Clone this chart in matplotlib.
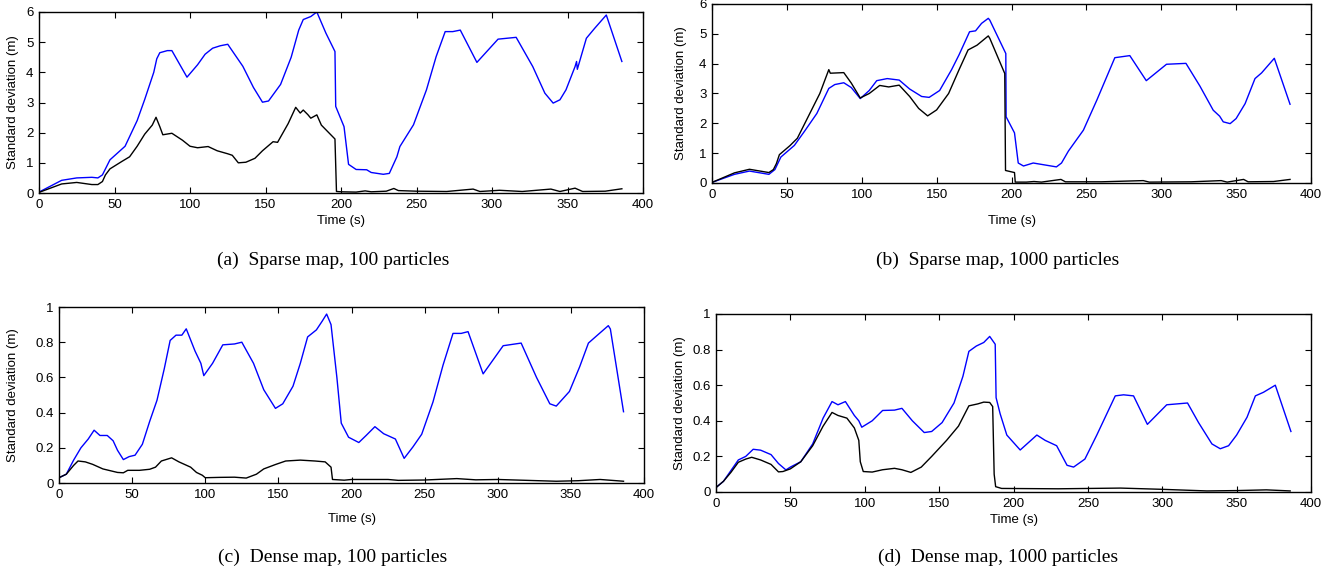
import matplotlib
matplotlib.use("Agg")
import matplotlib.pyplot as plt

# ---------------- data ----------------
# (a) Sparse map, 100 particles
a_blue_t = [0, 15, 25, 35, 39, 42, 47, 57, 65, 70, 76, 78, 80, 85, 88, 98, 105, 110, 115, 120, 125,
            135, 142, 148, 152, 160, 167, 172, 175, 180, 184, 190, 196, 196.5, 202, 205, 210, 217, 220,
            228, 232, 237, 239, 248, 256.6, 263, 269, 274, 279, 290, 304, 316, 327, 335, 340.5, 345,
            349, 355, 356, 356.5, 362.5, 368, 375.7, 386]
a_blue_v = [0.03, 0.42, 0.5, 0.52, 0.5, 0.6, 1.1, 1.55, 2.4, 3.1, 4.0, 4.45, 4.65, 4.72, 4.72, 3.84,
            4.25, 4.6, 4.8, 4.88, 4.93, 4.2, 3.5, 3.01, 3.05, 3.6, 4.5, 5.4, 5.75, 5.85, 6.0, 5.3,
            4.69, 2.87, 2.2, 0.95, 0.78, 0.77, 0.68, 0.62, 0.65, 1.2, 1.54, 2.26, 3.42, 4.52, 5.35,
            5.35, 5.4, 4.33, 5.1, 5.16, 4.19, 3.31, 2.98, 3.09, 3.42, 4.19, 4.36, 4.1, 5.13, 5.46,
            5.9, 4.36]
a_black_t = [0, 15, 25, 35, 39, 42, 44, 47, 55, 60, 65, 70, 75, 77.5, 80, 82, 88, 95, 100, 105, 112,
             118, 125, 128, 132, 137, 143, 148, 155, 158, 165, 170, 173, 175, 178, 180, 184, 187,
             196, 197, 200, 210, 216, 220, 230, 235, 238, 250, 270, 287.5, 292, 305, 320, 339, 345,
             355, 360, 375, 386]
a_black_v = [0.02, 0.3, 0.35, 0.28, 0.28, 0.38, 0.6, 0.8, 1.05, 1.2, 1.55, 1.95, 2.25, 2.51, 2.2,
             1.93, 1.98, 1.75, 1.55, 1.5, 1.54, 1.4, 1.3, 1.25, 1.0, 1.02, 1.15, 1.4, 1.7, 1.68, 2.3,
             2.84, 2.65, 2.75, 2.6, 2.48, 2.59, 2.25, 1.79, 0.05, 0.04, 0.03, 0.07, 0.04, 0.06, 0.15,
             0.08, 0.06, 0.05, 0.13, 0.05, 0.09, 0.05, 0.13, 0.05, 0.16, 0.05, 0.06, 0.14]

# (b) Sparse map, 1000 particles
b_blue_t = [0, 15, 25, 38, 42, 46, 55, 62, 70, 78, 82, 88, 93, 99, 105, 110, 117, 125, 132, 140, 145,
            152, 160, 165, 172, 176, 180, 184.5, 185.5, 196.2, 196.4, 202, 204.5, 208, 214.5, 230,
            233.4, 238, 248, 257, 269, 279, 290, 303.5, 316.5, 325.8, 334.7, 339, 341.4, 346, 350,
            356, 362.6, 367, 375.5, 386]
b_blue_v = [0.02, 0.29, 0.4, 0.29, 0.45, 0.87, 1.26, 1.75, 2.33, 3.17, 3.3, 3.36, 3.2, 2.83, 3.1,
            3.43, 3.5, 3.45, 3.15, 2.9, 2.87, 3.1, 3.8, 4.3, 5.07, 5.1, 5.35, 5.52, 5.46, 4.34, 2.22,
            1.68, 0.67, 0.57, 0.67, 0.54, 0.67, 1.07, 1.77, 2.78, 4.2, 4.27, 3.43, 3.98, 4.01, 3.25,
            2.44, 2.24, 2.05, 1.99, 2.16, 2.66, 3.5, 3.69, 4.18, 2.64]
b_black_t = [0, 15, 25, 38, 41, 43, 45, 52, 57, 65, 72, 78, 79, 88, 93, 99, 105, 112, 118, 125, 132,
             138, 144, 150, 158, 165, 171, 177, 184.5, 185.5, 195.5, 196, 202, 202.5, 210, 215, 220,
             233, 236, 260, 288, 292, 320, 340, 344, 355, 358, 375, 386]
b_black_v = [0.02, 0.34, 0.46, 0.35, 0.45, 0.65, 0.95, 1.25, 1.5, 2.3, 3.0, 3.8, 3.68, 3.7, 3.35,
             2.85, 3.0, 3.27, 3.22, 3.28, 2.9, 2.5, 2.25, 2.45, 3.0, 3.8, 4.46, 4.62, 4.93, 4.85,
             3.67, 0.42, 0.35, 0.03, 0.03, 0.05, 0.03, 0.12, 0.04, 0.04, 0.08, 0.03, 0.04, 0.08,
             0.03, 0.12, 0.04, 0.05, 0.12]

# (c) Dense map, 100 particles
c_blue_t = [0, 5, 10, 15, 20, 24, 28, 33, 37, 40, 44, 48, 52, 57, 62, 67, 72, 76, 80, 84, 87, 93, 97,
            99, 105, 112, 120, 125, 133, 140, 148, 153, 160, 165, 170, 176, 180, 183, 186, 190, 193,
            198, 205, 210, 216, 222, 230, 236, 242, 248, 255.7, 262.6, 269.4, 275, 279.7, 290,
            303.7, 316, 326.5, 335.6, 340, 349, 356, 362, 367.6, 375.6, 377, 386]
c_blue_v = [0.03, 0.05, 0.13, 0.2, 0.25, 0.30, 0.27, 0.27, 0.24, 0.186, 0.133, 0.15, 0.158, 0.22,
            0.35, 0.47, 0.65, 0.81, 0.84, 0.84, 0.876, 0.75, 0.68, 0.61, 0.68, 0.785, 0.79, 0.80,
            0.68, 0.53, 0.424, 0.45, 0.55, 0.68, 0.83, 0.87, 0.92, 0.96, 0.9, 0.6, 0.34, 0.26, 0.23,
            0.27, 0.32, 0.28, 0.25, 0.14, 0.205, 0.277, 0.46, 0.67, 0.85, 0.85, 0.86, 0.62, 0.78,
            0.795, 0.60, 0.45, 0.437, 0.52, 0.66, 0.795, 0.836, 0.894, 0.875, 0.405]
c_black_t = [0, 5, 10, 13, 18, 23, 30, 40, 44, 47, 55, 62, 66, 70, 77, 82, 90, 94, 98, 100, 110, 120,
             128, 135, 140, 148, 155, 165, 175, 182, 186, 187, 195, 200, 225, 232, 250, 272, 285,
             300, 320, 340, 355, 370, 386]
c_black_v = [0.03, 0.05, 0.1, 0.125, 0.12, 0.106, 0.08, 0.06, 0.058, 0.072, 0.072, 0.078, 0.09,
             0.125, 0.143, 0.12, 0.09, 0.06, 0.044, 0.03, 0.032, 0.033, 0.028, 0.05, 0.08, 0.105,
             0.125, 0.13, 0.125, 0.12, 0.09, 0.02, 0.016, 0.02, 0.02, 0.015, 0.017, 0.025, 0.018,
             0.02, 0.015, 0.01, 0.013, 0.02, 0.01]

# (d) Dense map, 1000 particles
d_blue_t = [0, 5, 10, 15, 20, 25, 30, 37, 42, 47, 50, 57, 65, 72, 78, 82, 87, 93, 96, 98, 105, 112,
            120, 125, 132, 140, 145, 152, 160, 166, 170, 175, 180, 184, 187.7, 188.3, 191, 195.5,
            204.5, 215.7, 221.3, 229, 236, 240.4, 248, 256, 268.4, 274, 280.7, 290, 303, 317, 324.4,
            333.4, 339, 344.6, 350, 357, 362.6, 368, 376, 386.5]
d_blue_v = [0.025, 0.06, 0.12, 0.18, 0.2, 0.24, 0.235, 0.21, 0.16, 0.124, 0.14, 0.17, 0.27, 0.415,
            0.508, 0.49, 0.508, 0.43, 0.4, 0.364, 0.4, 0.458, 0.46, 0.47, 0.4, 0.334, 0.34, 0.39,
            0.5, 0.65, 0.79, 0.82, 0.84, 0.874, 0.83, 0.53, 0.44, 0.32, 0.236, 0.32, 0.29, 0.26,
            0.15, 0.14, 0.185, 0.32, 0.54, 0.546, 0.54, 0.38, 0.49, 0.50, 0.39, 0.27, 0.243, 0.26,
            0.32, 0.42, 0.54, 0.56, 0.60, 0.34]
d_black_t = [0, 5, 10, 15, 20, 24, 30, 37, 42, 45, 50, 57, 65, 72, 78, 82, 88, 93, 96, 97, 99, 105,
             112, 120, 125, 131, 138, 145, 155, 163, 170, 176, 180, 184, 186, 187, 188, 192, 230,
             272, 300, 330, 350, 370, 386]
d_black_v = [0.025, 0.06, 0.11, 0.167, 0.185, 0.195, 0.18, 0.155, 0.113, 0.115, 0.13, 0.17, 0.26,
             0.37, 0.447, 0.43, 0.415, 0.36, 0.29, 0.17, 0.115, 0.112, 0.125, 0.133, 0.125, 0.11,
             0.14, 0.2, 0.29, 0.37, 0.484, 0.495, 0.505, 0.503, 0.48, 0.1, 0.03, 0.02, 0.018, 0.022,
             0.015, 0.006, 0.008, 0.012, 0.006]

x_ticks = [0, 50, 100, 150, 200, 250, 300, 350, 400]
sparse_yticks = [0, 1, 2, 3, 4, 5, 6]
dense_yticks = [0, 0.2, 0.4, 0.6, 0.8, 1]
dense_yticklabels = ["0", "0.2", "0.4", "0.6", "0.8", "1"]
captions = ["(a)  Sparse map, 100 particles", "(b)  Sparse map, 1000 particles",
            "(c)  Dense map, 100 particles", "(d)  Dense map, 1000 particles"]
xlabel = "Time (s)"
ylabel = "Standard deviation (m)"

# ---------------- figure ----------------
W, H = 1338, 574
fig = plt.figure(figsize=(W / 100, H / 100), dpi=100)
plt.rcParams["font.family"] = ["Liberation Sans", "DejaVu Sans"]


def box(x0, y0, x1, y1):
    return [x0 / W, 1 - y1 / H, (x1 - x0) / W, (y1 - y0) / H]


# layout: axes box (px), ylabel centre x (px), xlabel centre y (px)
panels = [
    ((39, 12, 643, 193), 13, 221, a_blue_t, a_blue_v, a_black_t, a_black_v, sparse_yticks, None, 6),
    ((712, 4, 1311, 183), 681, 221, b_blue_t, b_blue_v, b_black_t, b_black_v, sparse_yticks, None, 6),
    ((59, 307, 644, 483), 13.5, 519, c_blue_t, c_blue_v, c_black_t, c_black_v, dense_yticks, dense_yticklabels, 1),
    ((716, 314, 1311, 492), 680.5, 520, d_blue_t, d_blue_v, d_black_t, d_black_v, dense_yticks, dense_yticklabels, 1),
]

for (x0, y0, x1, y1), ylx, xly, bt, bv, kt, kv, yt, ytl, ymax in panels:
    ax = fig.add_axes(box(x0, y0, x1, y1))
    ax.plot(bt, bv, color="#0000ff", lw=1.0)
    ax.plot(kt, kv, color="black", lw=1.0)
    ax.set_xlim(0, 400)
    ax.set_ylim(0, ymax)
    ax.set_xticks(x_ticks)
    ax.set_yticks(yt)
    if ytl is not None:
        ax.set_yticklabels(ytl)
    ax.tick_params(direction="in", length=4, width=0.8, labelsize=9.5, pad=4,
                   top=True, right=True, labeltop=False, labelright=False)
    for s in ax.spines.values():
        s.set_linewidth(1.0)
    ax.set_xlabel(xlabel, fontsize=9.5, va="center")
    ax.set_ylabel(ylabel, fontsize=9.5, va="center")
    ax.xaxis.set_label_coords(0.5, (y1 - xly) / (y1 - y0))
    ax.yaxis.set_label_coords((ylx - x0) / (x1 - x0), 0.5)

cap_pos = [(333, 260), (998, 260), (333, 557), (998, 557)]
for (cx, cy), txt in zip(cap_pos, captions):
    fig.text(cx / W, 1 - cy / H, txt, ha="center", va="center", fontsize=14,
             family=["Liberation Serif", "DejaVu Serif"])

fig.savefig("out.png", dpi=100)
